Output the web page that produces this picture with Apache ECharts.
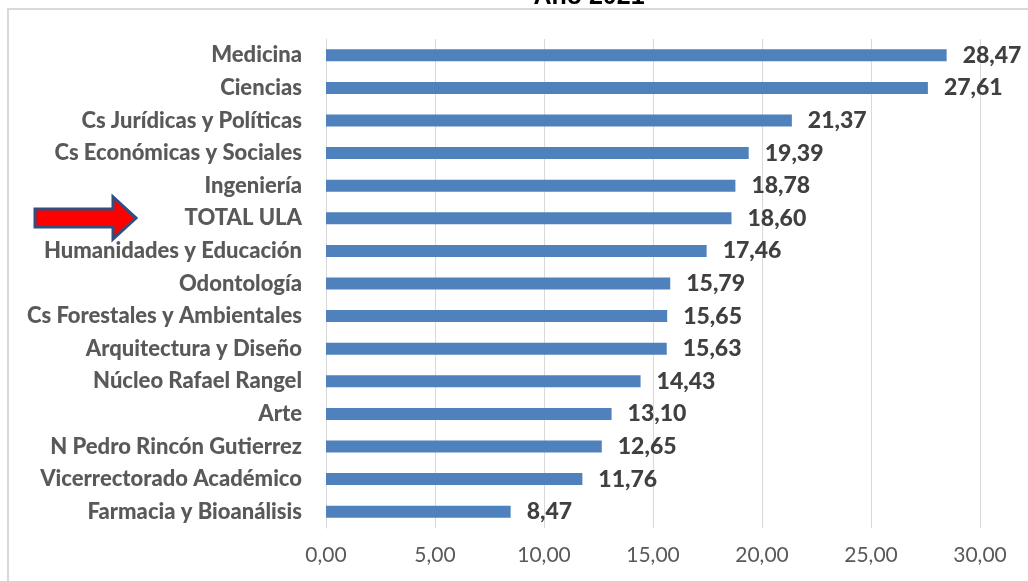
<!DOCTYPE html>
<html>
<head>
<meta charset="utf-8">
<script src="https://cdn.jsdelivr.net/npm/echarts@6/dist/echarts.min.js"></script>
<style>
  html, body { margin: 0; padding: 0; background: #fff; }
  #chart { width: 1028px; height: 581px; }
</style>
</head>
<body>
<div id="chart"></div>
<script>
// facultades y su valor, en el orden de la figura
const facultades = [
  'Medicina', 'Ciencias', 'Cs Jurídicas y Políticas', 'Cs Económicas y Sociales',
  'Ingeniería', 'TOTAL ULA', 'Humanidades y Educación', 'Odontología',
  'Cs Forestales y Ambientales', 'Arquitectura y Diseño', 'Núcleo Rafael Rangel',
  'Arte', 'N Pedro Rincón Gutierrez', 'Vicerrectorado Académico', 'Farmacia y Bioanálisis'
]
const valores = [28.47, 27.61, 21.37, 19.39, 18.78, 18.60, 17.46, 15.79, 15.65, 15.63, 14.43, 13.10, 12.65, 11.76, 8.47]
const ejeTicks = [0, 5, 10, 15, 20, 25, 30]

const coma = v => v.toFixed(2).replace('.', ',')
const FONT = 'Lato, "Open Sans", sans-serif'

let myChart = echarts.init(document.getElementById('chart'))
let option = {
  animation: false,
  title: {
    text: 'Año 2021',
    left: 584,
    top: -20,
    textAlign: 'center',
    textStyle: { fontFamily: 'Liberation Sans, Arial', fontWeight: 'bold', fontSize: 25, color: '#000' }
  },
  grid: { left: 326, right: 48, top: 39, bottom: 53 },
  xAxis: {
    type: 'value',
    min: ejeTicks[0],
    max: ejeTicks[ejeTicks.length - 1],
    interval: 5,
    axisLine: { show: false },
    axisTick: { show: false },
    splitLine: { lineStyle: { color: '#d9d9d9', width: 1 } },
    axisLabel: {
      formatter: v => coma(v),
      fontFamily: FONT, fontSize: 21, color: '#595959', margin: 17
    }
  },
  yAxis: {
    type: 'category',
    inverse: true,
    data: facultades,
    axisLine: { show: true, lineStyle: { color: '#d9d9d9' } },
    axisTick: { show: false },
    axisLabel: { fontFamily: FONT, fontWeight: 900, fontSize: 22, color: '#595959', margin: 24 }
  },
  series: [
    {
      type: 'bar',
      data: valores,
      barWidth: 12,
      itemStyle: { color: '#4f81bd' },
      label: {
        show: true,
        position: 'right',
        distance: 16,
        formatter: p => coma(p.value),
        fontFamily: FONT, fontWeight: 900, fontSize: 23, color: '#404040'
      }
    }
  ],
  graphic: [
    {
      type: 'rect',
      silent: true,
      shape: { x: 8, y: 9, width: 1040, height: 600 },
      style: { fill: 'none', stroke: '#d9d9d9', lineWidth: 2 }
    },
    {
      type: 'polygon',
      silent: true,
      shape: { points: [[35, 209], [113, 209], [113, 197], [136, 218], [113, 239], [113, 227], [35, 227]] },
      style: { fill: '#ff0000', stroke: '#2f4f7f', lineWidth: 3 }
    }
  ]
}
myChart.setOption(option)
</script>
</body>
</html>
